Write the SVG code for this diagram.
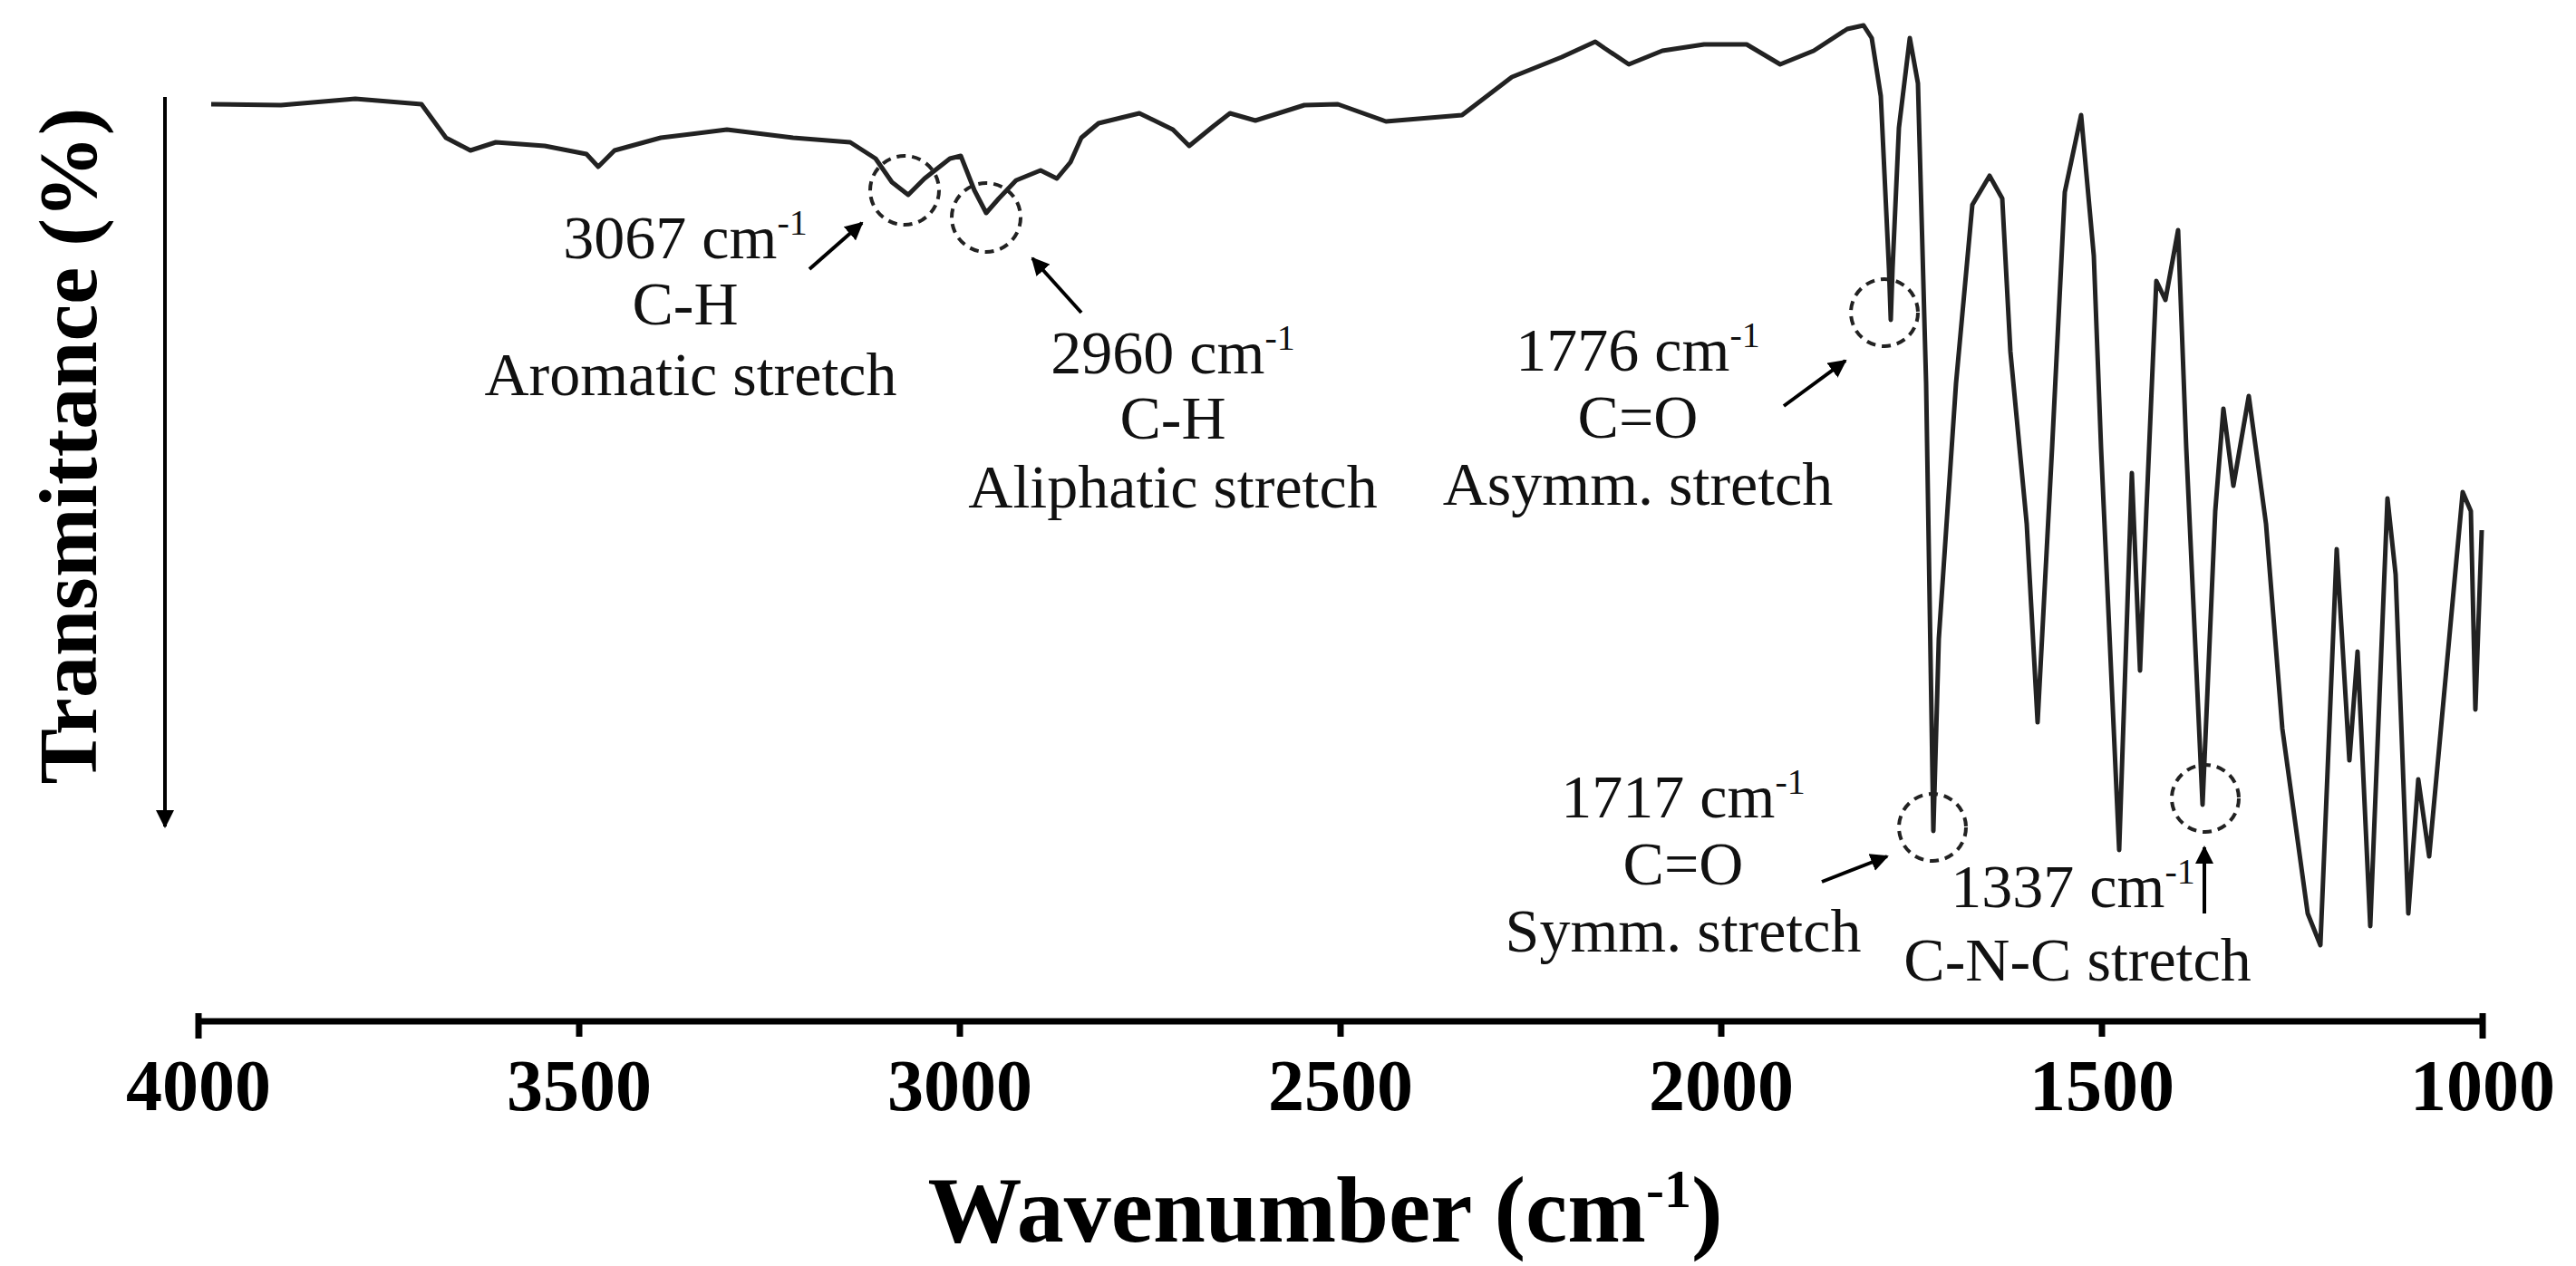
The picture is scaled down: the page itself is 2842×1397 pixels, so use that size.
<svg xmlns="http://www.w3.org/2000/svg" width="2842" height="1397" viewBox="0 0 2842 1397">
<defs>
<marker id="ah" viewBox="0 0 10 10" refX="9" refY="5" markerWidth="5" markerHeight="5" orient="auto"><path d="M0,0 L10,5 L0,10 z" fill="#000"/></marker>
</defs>
<style>
.lbl{font-family:"Liberation Serif",serif;font-size:68px;text-anchor:middle;fill:#111}
.sup{font-size:40px}
.tick{font-family:"Liberation Serif",serif;font-size:80px;font-weight:bold;text-anchor:middle}
.ax{font-family:"Liberation Serif",serif;font-weight:bold}
.circ{fill:none;stroke:#222;stroke-width:4;stroke-dasharray:10 7}
.arr{stroke:#000;stroke-width:4;fill:none;marker-end:url(#ah)}
</style>
<rect width="2842" height="1397" fill="#fff"/>
<g id="axes" stroke="#000" stroke-width="7" fill="none">
<path d="M219,1127 H2739 M219,1118 V1146 M639,1127 V1144 M1059,1127 V1144 M1479,1127 V1144 M1899,1127 V1144 M2319,1127 V1144 M2739,1118 V1146"/>
</g>
<g id="ticklabels">
<text class="tick" x="219" y="1225">4000</text>
<text class="tick" x="639" y="1225">3500</text>
<text class="tick" x="1059" y="1225">3000</text>
<text class="tick" x="1479" y="1225">2500</text>
<text class="tick" x="1899" y="1225">2000</text>
<text class="tick" x="2319" y="1225">1500</text>
<text class="tick" x="2739" y="1225">1000</text>
</g>
<text class="ax" x="1462" y="1370" font-size="104" text-anchor="middle">Wavenumber (cm<tspan font-size="60" dy="-38">-1</tspan><tspan dy="38">)</tspan></text>
<text class="ax" transform="translate(106,492) rotate(-90)" font-size="92" text-anchor="middle">Transmittance (%)</text>
<g id="yarrow"><line x1="182" y1="107" x2="182" y2="912" stroke="#000" stroke-width="4" marker-end="url(#ah)"/></g>
<g id="spectrum">
<polyline fill="none" stroke="#222" stroke-width="5" stroke-linejoin="round" points="233,115 310,116 392,109 465,115 492,152 519,166 547,157 601,161 647,170 660,184 678,166 729,152 802,143 875,152 938,157 966,175 984,201 1002,215 1020,197 1048,175 1060,172 1075,210 1088,235 1102,219 1121,199 1148,188 1166,197 1181,179 1193,152 1212,136 1257,125 1294,143 1312,161 1339,139 1357,125 1385,133 1439,116 1476,115 1529,134 1613,127 1668,85 1723,63 1760,46 1770,53 1797,71 1834,56 1880,49 1927,49 1964,71 2001,56 2038,32 2056,28 2065,42 2075,106 2084,296 2086,353 2088,296 2095,141 2107,42 2116,92 2125,423 2133,917 2139,705 2158,423 2176,226 2195,194 2209,219 2218,388 2236,578 2248,797 2264,494 2278,212 2296,127 2310,282 2318,494 2338,938 2352,522 2361,740 2368,564 2379,310 2389,331 2403,254 2412,494 2430,888 2444,564 2453,451 2464,536 2481,437 2500,578 2518,804 2546,1008 2560,1043 2578,606 2592,839 2601,719 2615,1022 2634,550 2643,634 2657,1008 2668,860 2680,945 2717,543 2726,564 2731,783 2738,585"/>
</g>
<g id="peak3067"><circle class="circ" cx="998" cy="210" r="38"/><line class="arr" x1="893" y1="297" x2="951" y2="246"/>
<text class="lbl" x="756" y="285">3067 cm<tspan class="sup" dy="-26">-1</tspan></text>
<text class="lbl" x="756" y="358">C-H</text><text class="lbl" x="762" y="436">Aromatic stretch</text></g>
<g id="peak2960"><circle class="circ" cx="1088" cy="240" r="38"/><line class="arr" x1="1193" y1="345" x2="1139" y2="285"/>
<text class="lbl" x="1294" y="412">2960 cm<tspan class="sup" dy="-26">-1</tspan></text>
<text class="lbl" x="1294" y="484">C-H</text><text class="lbl" x="1294" y="560">Aliphatic stretch</text></g>
<g id="peak1776"><circle class="circ" cx="2079" cy="345" r="37"/><line class="arr" x1="1968" y1="448" x2="2036" y2="398"/>
<text class="lbl" x="1807" y="409">1776 cm<tspan class="sup" dy="-26">-1</tspan></text>
<text class="lbl" x="1807" y="483">C=O</text><text class="lbl" x="1807" y="557">Asymm. stretch</text></g>
<g id="peak1717"><circle class="circ" cx="2132" cy="913" r="37"/><line class="arr" x1="2010" y1="973" x2="2082" y2="945"/>
<text class="lbl" x="1857" y="902">1717 cm<tspan class="sup" dy="-26">-1</tspan></text>
<text class="lbl" x="1857" y="976">C=O</text><text class="lbl" x="1857" y="1050">Symm. stretch</text></g>
<g id="peak1337"><circle class="circ" cx="2433" cy="881" r="37"/><line class="arr" x1="2432" y1="1008" x2="2432" y2="935"/>
<text class="lbl" x="2287" y="1001">1337 cm<tspan class="sup" dy="-26">-1</tspan></text>
<text class="lbl" x="2292" y="1082">C-N-C stretch</text></g>
</svg>
